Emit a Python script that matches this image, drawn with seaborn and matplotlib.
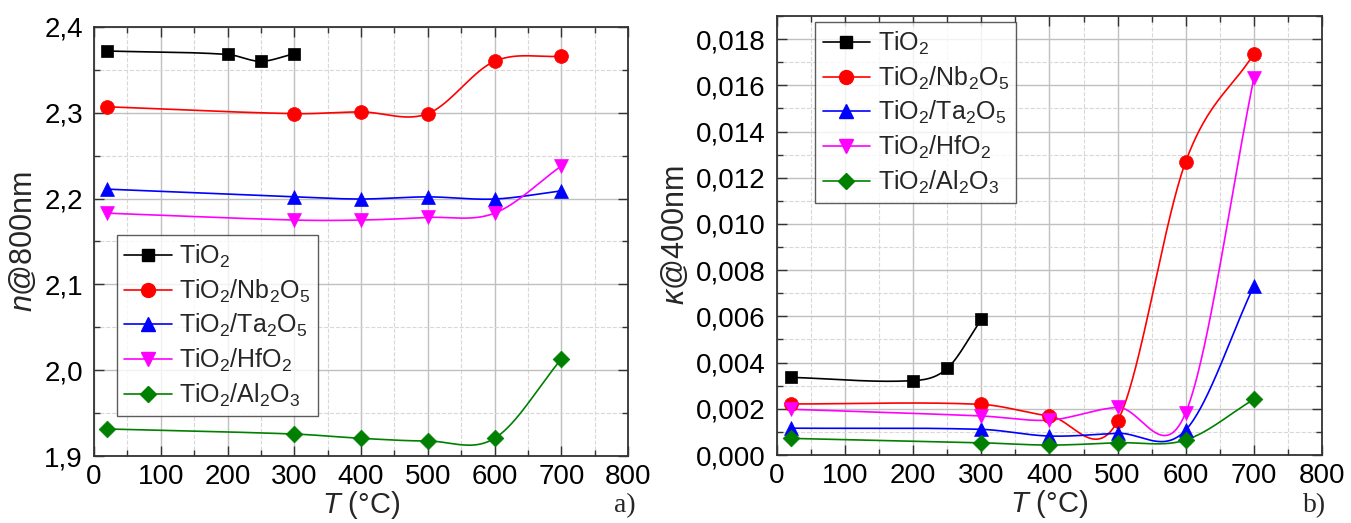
import numpy as np
import pandas as pd
import seaborn as sns
import matplotlib.pyplot as plt
from matplotlib.lines import Line2D
from matplotlib.ticker import MultipleLocator, FuncFormatter

# Daten
series = ['TiO$_2$', 'TiO$_2$/Nb$_2$O$_5$', 'TiO$_2$/Ta$_2$O$_5$', 'TiO$_2$/HfO$_2$', 'TiO$_2$/Al$_2$O$_3$']
t_tio2 = [20, 200, 250, 300]
t_mix = [20, 300, 400, 500, 600, 700]

n_tio2 = [2.372, 2.368, 2.360, 2.369]
n_nb = [2.307, 2.299, 2.301, 2.299, 2.360, 2.366]
n_ta = [2.211, 2.202, 2.1995, 2.202, 2.1995, 2.209]
n_hf = [2.183, 2.175, 2.175, 2.178, 2.183, 2.238]
n_al = [1.9315, 1.9256, 1.9206, 1.9175, 1.9206, 2.013]

k_tio2 = [0.00336, 0.00322, 0.00375, 0.00587]
k_nb = [0.00221, 0.00219, 0.00169, 0.00147, 0.0127, 0.01736]
k_ta = [0.00116, 0.00111, 0.00082, 0.00094, 0.00108, 0.00731]
k_hf = [0.00198, 0.00169, 0.00151, 0.00206, 0.00183, 0.0163]
k_al = [0.00072, 0.00053, 0.00043, 0.00053, 0.00065, 0.00241]

colors = ['black', '#ff0000', '#0000ff', '#ff00ff', '#008000']
markers = ['s', 'o', '^', 'v', 'D']
msizes = [9, 10, 10, 10, 8.5]


def spline(x, y, n=60):
    # Hermite-Spline mit Tangenten aus Nachbarpunkten (Catmull-Rom)
    x = np.asarray(x, float)
    y = np.asarray(y, float)
    m = np.empty_like(y)
    m[0] = (y[1] - y[0]) / (x[1] - x[0])
    m[-1] = (y[-1] - y[-2]) / (x[-1] - x[-2])
    m[1:-1] = (y[2:] - y[:-2]) / (x[2:] - x[:-2])
    xs, ys = [], []
    for i in range(len(x) - 1):
        h = x[i + 1] - x[i]
        s = np.linspace(0, 1, n)
        h00 = 2 * s**3 - 3 * s**2 + 1
        h10 = s**3 - 2 * s**2 + s
        h01 = -2 * s**3 + 3 * s**2
        h11 = s**3 - s**2
        xs.append(x[i] + s * h)
        ys.append(h00 * y[i] + h10 * h * m[i] + h01 * y[i + 1] + h11 * h * m[i + 1])
    return np.concatenate(xs), np.concatenate(ys)


sns.set_theme(style='white')
plt.rcParams['font.family'] = ['Liberation Sans Narrow', 'Liberation Sans', 'DejaVu Sans']
plt.rcParams['mathtext.fontset'] = 'custom'
plt.rcParams['mathtext.rm'] = 'Liberation Sans'
plt.rcParams['mathtext.it'] = 'Liberation Sans:italic'

fig = plt.figure(figsize=(13.51, 5.23), dpi=100)
ax1 = fig.add_axes([0.0696, 0.1281, 0.3953, 0.8203])
ax2 = fig.add_axes([0.5751, 0.1300, 0.4034, 0.8394])


def draw(ax, ys_list):
    xs_list = [t_tio2] + [t_mix] * 4
    for i, (xv, yv) in enumerate(zip(xs_list, ys_list)):
        cx, cy = spline(xv, yv)
        sns.lineplot(x=cx, y=cy, ax=ax, color=colors[i], lw=1.2, sort=False,
                     estimator=None, zorder=3)
        df = pd.DataFrame({'T': xv, 'v': yv})
        sns.scatterplot(data=df, x='T', y='v', ax=ax, color=colors[i], marker=markers[i],
                        s=msizes[i] ** 2, edgecolor=colors[i], linewidth=0.5, zorder=4)


def style(ax, ymin, ymax, major, minor, fmt):
    ax.set_xlim(0, 800)
    ax.set_ylim(ymin, ymax)
    ax.xaxis.set_major_locator(MultipleLocator(100))
    ax.xaxis.set_minor_locator(MultipleLocator(50))
    ax.yaxis.set_major_locator(MultipleLocator(major))
    ax.yaxis.set_minor_locator(MultipleLocator(minor))
    ax.yaxis.set_major_formatter(FuncFormatter(lambda v, p: (fmt % v).replace('.', ',')))
    ax.grid(True, which='major', color='#c0c0c0', lw=1.0, ls='-')
    ax.grid(True, which='minor', color='#d8d8d8', lw=0.8, ls='--')
    ax.set_axisbelow(True)
    ax.tick_params(which='both', direction='in', top=True, right=True, bottom=True, left=True,
                   labelsize=20, colors='#333333', labelcolor='black')
    ax.tick_params(which='major', length=7, width=1, pad=8)
    ax.tick_params(axis='x', which='major', pad=6)
    ax.tick_params(which='minor', length=4, width=1)
    for s in ax.spines.values():
        s.set_color('#333333')
        s.set_linewidth(1.3)
    ax.set_xlabel(r'$\mathit{T}$ (°C)', fontsize=21, labelpad=-1)
    handles = [Line2D([], [], color=colors[i], marker=markers[i], markersize=msizes[i], lw=1.2)
               for i in range(5)]
    return handles


def legend(ax, h, loc, anchor):
    leg = ax.legend(h, series, loc=loc, bbox_to_anchor=anchor, fontsize=18,
                    frameon=True, fancybox=False, edgecolor='#333333', handlelength=1.9,
                    handletextpad=0.3, labelspacing=0.3, borderpad=0.3, borderaxespad=0)
    leg.get_frame().set_linewidth(1.0)


draw(ax1, [n_tio2, n_nb, n_ta, n_hf, n_al])
h = style(ax1, 1.9, 2.4, 0.1, 0.05, '%.1f')
ax1.set_ylabel(r'$\mathit{n}$@800nm', fontsize=22, labelpad=4)
legend(ax1, h, 'lower left', (0.043, 0.093))

draw(ax2, [k_tio2, k_nb, k_ta, k_hf, k_al])
h = style(ax2, 0.0, 0.019, 0.002, 0.001, '%.3f')
ax2.set_ylabel(r'$\mathit{\kappa}$@400nm', fontsize=22, labelpad=4)
legend(ax2, h, 'upper left', (0.07, 0.986))

fig.text(625 / 1351, 1 - 506 / 523, 'a)', family='Liberation Serif', fontsize=20, ha='center', va='center')
fig.text(1315 / 1351, 1 - 506 / 523, 'b)', family='Liberation Serif', fontsize=20, ha='center', va='center')

plt.savefig('out.png', dpi=100)
